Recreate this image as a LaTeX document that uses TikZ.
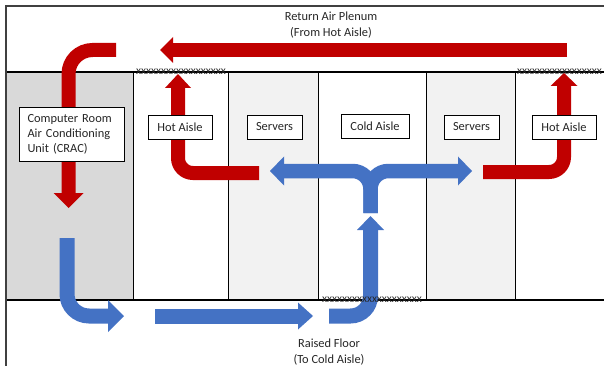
\documentclass[tikz,border=0pt]{standalone}
\usepackage{fontspec}
\setmainfont{Carlito}
\usetikzlibrary{arrows.meta}
\definecolor{hotred}{HTML}{C00000}
\definecolor{coolblue}{HTML}{4472C4}
\definecolor{cracgray}{HTML}{D9D9D9}
\definecolor{rackgray}{HTML}{F2F2F2}
\definecolor{txtc}{HTML}{262626}
\begin{document}
\begin{tikzpicture}[x=1pt,y=-1pt,
  lbl/.style={draw=black,fill=white,line width=0.9pt,inner sep=0pt,text=txtc,
    font=\fontsize{12.4}{15}\selectfont},
  plain/.style={text=txtc,inner sep=0pt,align=center,font=\fontsize{12.4}{16}\selectfont},
  xs/.style={text=txtc,inner sep=0pt,anchor=base west,font=\fontsize{11.5}{11.5}\selectfont},
  divider/.style={draw=black,line width=0.9pt},
  floorline/.style={draw=black,line width=1.2pt},
  redarr/.style={draw=hotred,line width=14pt},
  bluearr/.style={draw=coolblue,line width=15pt},
]
\useasboundingbox (0,0) rectangle (604,366);
% column fills
\fill[cracgray] (6,72) rectangle (133,300);
\fill[rackgray] (228,72) rectangle (318,300);
\fill[rackgray] (426,72) rectangle (515,300);
% dividers
\foreach \xx in {133,228,318,426,515} \draw[divider] (\xx,72) -- (\xx,300);
\draw[floorline] (6,72) -- (604,72);
\draw[floorline] (6,300) -- (604,300);
\draw[draw=black!75,line width=1.4pt] (6,366) -- (6,6) -- (604,6);
% arrow end points
\coordinate (rtS) at (567,50);
\coordinate (rtE) at (160,50);
\coordinate (crS) at (116,50);
\coordinate (crE) at (68.5,208);
\coordinate (hlS) at (259,173);
\coordinate (hlE) at (178,74);
\coordinate (hrS) at (483,172);
\coordinate (hrE) at (564,73);
\coordinate (bcS) at (67,238);
\coordinate (bcE) at (124,316);
\coordinate (bmS) at (155,316);
\coordinate (bmE) at (313,316);
\coordinate (brS) at (329,316);
\coordinate (brE) at (370.5,216);
\coordinate (fkS) at (370.5,213);
\coordinate (fkL) at (270,171);
\coordinate (fkR) at (472,171);
% red arrows
\draw[redarr,-{Triangle[width=26pt,length=13pt,line width=0pt]}] (rtS) -- (rtE);
\draw[redarr,rounded corners=24pt,-{Triangle[width=30pt,length=15pt,line width=0pt]}] (crS) -| (crE);
\draw[redarr,rounded corners=15pt,-{Triangle[width=26pt,length=14pt,line width=0pt]}] (hlS) -| (hlE);
\draw[redarr,rounded corners=15pt,-{Triangle[width=27pt,length=13pt,line width=0pt]}] (hrS) -| (hrE);
% blue arrows
\draw[bluearr,rounded corners=22pt,-{Triangle[width=32pt,length=16pt,line width=0pt]}] (bcS) |- (bcE);
\draw[bluearr,-{Triangle[width=27pt,length=15pt,line width=0pt]}] (bmS) -- (bmE);
\draw[bluearr,rounded corners=20pt,-{Triangle[width=27pt,length=14pt,line width=0pt]}] (brS) -| (brE);
\draw[bluearr,line width=14.5pt,rounded corners=18pt,-{Triangle[width=29pt,length=14pt,line width=0pt]}] (fkS) |- (fkL);
\draw[bluearr,line width=14.5pt,rounded corners=18pt,-{Triangle[width=29pt,length=14pt,line width=0pt]}] (fkS) |- (fkR);
% labels
\node[plain] (plenum) at (331,25) {Return Air Plenum\\(From Hot Aisle)};
\node[plain] (raised) at (329,352) {Raised Floor\\(To Cold Aisle)};
\node[lbl,minimum width=105pt,minimum height=54pt,text width=88pt,align=left] (crac) at (71.5,134)
  {Computer Room\\Air Conditioning\\Unit (CRAC)};
\node[lbl,minimum width=64pt,minimum height=24pt] (hotL) at (180,127) {Hot Aisle};
\node[lbl,minimum width=55pt,minimum height=24pt] (srvL) at (274.5,127) {Servers};
\node[lbl,minimum width=68pt,minimum height=24pt] (cold) at (375,126) {Cold Aisle};
\node[lbl,minimum width=55pt,minimum height=24pt] (srvR) at (471.5,127) {Servers};
\node[lbl,minimum width=64pt,minimum height=24pt] (hotR) at (564,127) {Hot Aisle};
% baffles
\node[xs] (bafL) at (136,75) {xxxxxxxxxxxxxxxxxx};
\node[xs] (bafR) at (517,75) {xxxxxxxxxxxxxxxxx};
\node[xs] (bafC) at (322,302.5) {xxxxxxxxxxxxxxxxxxxx};
\end{tikzpicture}
\end{document}
